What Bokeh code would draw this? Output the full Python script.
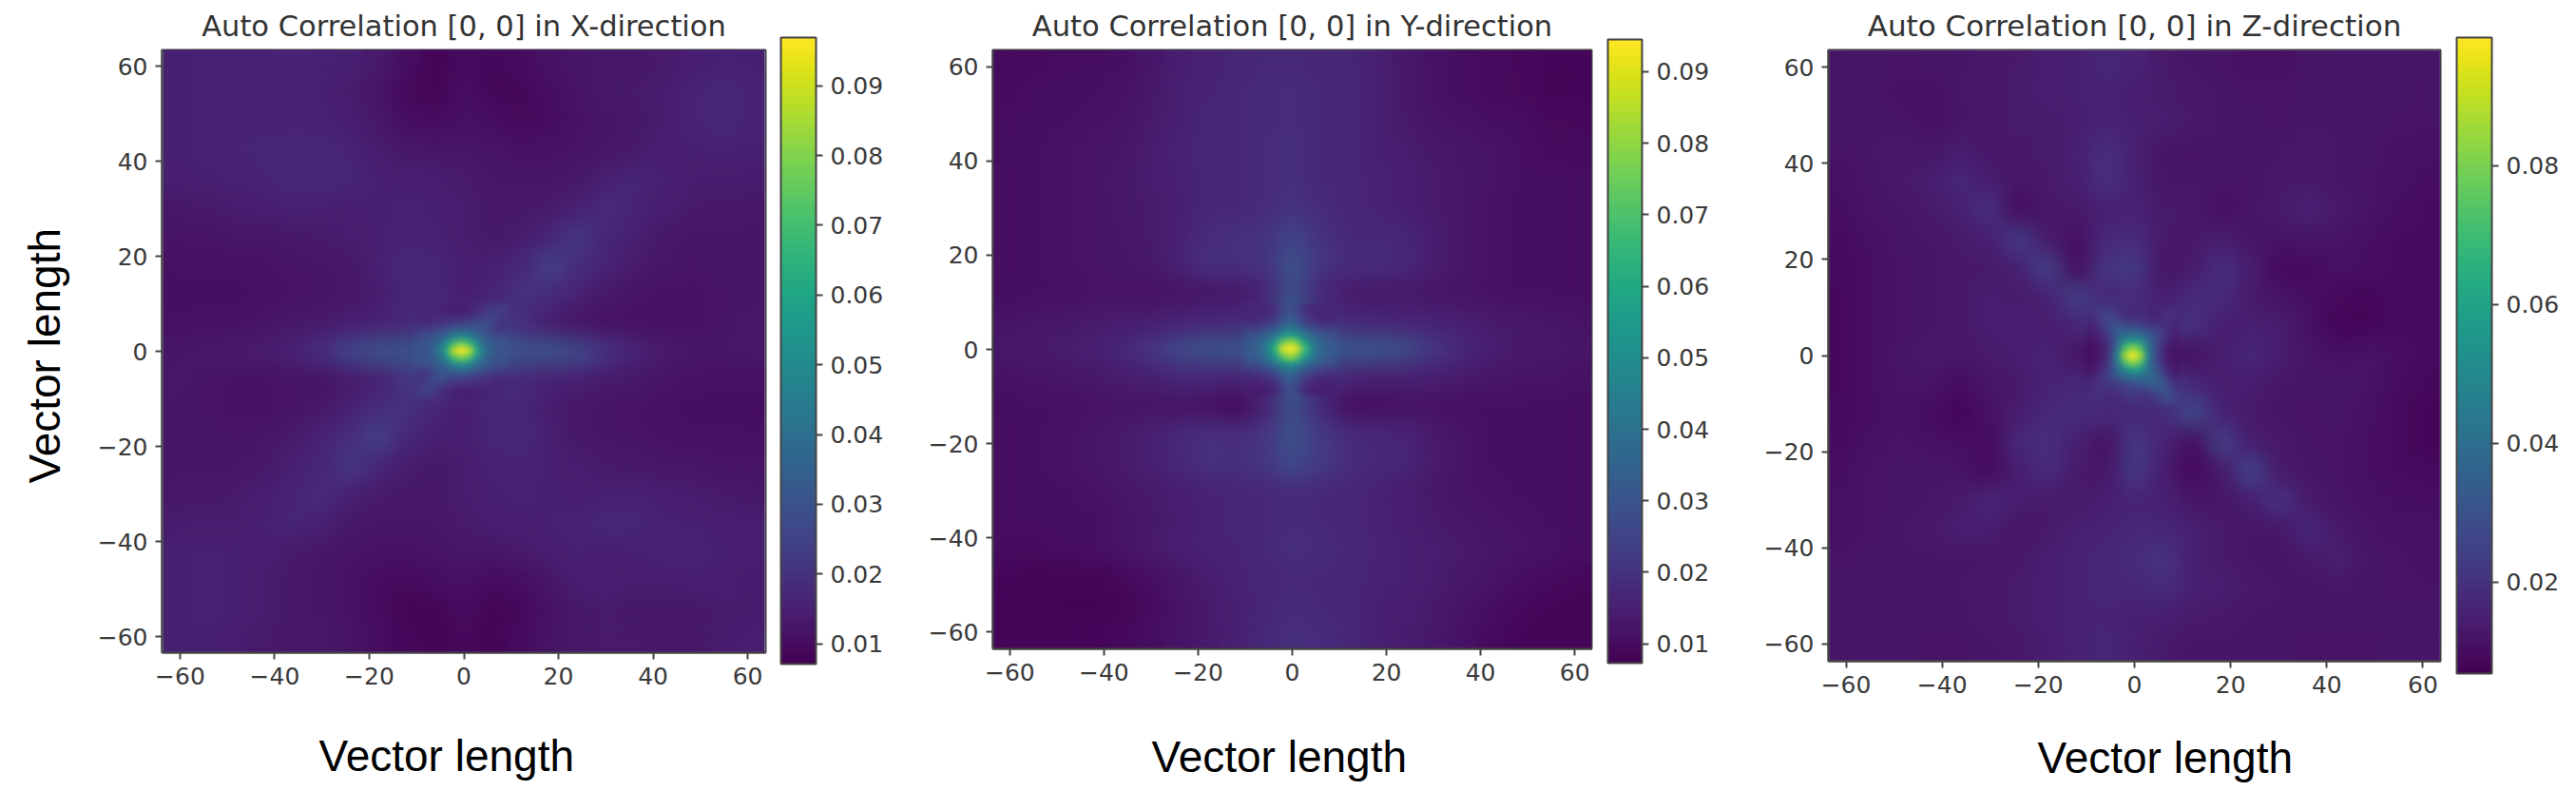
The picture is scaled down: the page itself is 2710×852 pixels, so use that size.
from bokeh.plotting import figure
from bokeh.layouts import row
from bokeh.models import ColorBar, LinearColorMapper, FixedTicker, Title, Range1d, CustomJS
from bokeh.palettes import Viridis256
from bokeh.document import Document
from bokeh.embed import file_html
from bokeh.resources import INLINE
import numpy as np

ticks = [-60, -40, -20, 0, 20, 40, 60]
tick_labels = {t: str(t).replace("-", "\u2212") for t in ticks}
titles = ["Auto Correlation [0, 0] in X-direction", "Auto Correlation [0, 0] in Y-direction", "Auto Correlation [0, 0] in Z-direction"]
axis_text = "Vector length"
cb_ticks_xy = [.01, .02, .03, .04, .05, .06, .07, .08, .09]
cb_ticks_z = [.02, .04, .06, .08]

# Values, in units of 1e-4; rows run from y=+60 to y=-60, columns from x=-60 to x=+60
x_wide = [
[150,152,155,155,160,155,150,135,105,85,100,90,100,115,125,130,130,135,145,155,150],
[150,155,158,158,160,150,140,120,95,85,105,90,90,105,120,130,135,140,160,170,160],
[150,155,158,158,158,155,145,130,105,100,110,105,95,100,115,125,130,140,160,170,160],
[150,155,160,165,170,170,160,140,130,125,125,120,115,115,120,125,135,145,150,155,150],
[145,150,155,160,170,175,165,150,145,145,135,125,125,125,130,150,165,150,140,140,140],
[130,135,140,145,155,150,145,150,155,150,140,130,130,135,150,180,160,145,135,130,130],
[120,120,125,125,130,135,140,150,160,155,140,130,140,165,215,165,150,130,125,125,125],
[110,110,110,115,120,125,130,150,170,165,150,150,170,240,190,160,135,125,120,125,125],
[105,105,105,110,115,120,125,140,175,170,140,160,200,190,155,130,120,115,115,120,125],
[110,110,115,120,130,135,145,155,170,195,200,240,190,140,120,115,110,110,115,120,130],
[125,130,135,140,155,190,250,290,300,340,400,340,295,290,265,200,160,135,125,125,130],
[130,120,115,115,120,120,135,155,205,240,200,195,170,155,150,135,130,120,115,110,110],
[125,120,115,115,120,130,155,190,200,160,140,170,175,140,125,120,115,110,105,105,105],
[125,125,120,125,135,160,190,240,170,150,150,165,170,150,130,125,120,115,110,110,110],
[125,125,125,130,150,165,215,165,140,130,140,155,160,150,140,135,130,125,125,120,120],
[130,130,135,145,160,180,150,135,130,130,140,150,155,150,145,150,155,145,140,135,130],
[140,140,140,150,165,150,130,125,125,125,135,145,145,150,160,170,165,155,150,145,145],
[150,155,150,145,135,125,120,115,115,120,125,125,135,145,150,145,150,160,160,150,145],
[150,155,150,140,130,125,115,100,95,105,110,100,105,125,145,145,140,140,145,145,140],
[150,155,150,140,130,125,115,100,85,85,100,85,90,115,130,135,130,130,130,135,140],
[150,150,145,135,130,130,120,105,90,85,95,85,100,120,130,135,135,130,130,140,145],
]
y_wide = [
[100,100,105,105,110,125,145,155,165,175,175,170,165,150,130,115,105,100,95,90,90],
[100,105,105,110,115,130,150,160,170,180,185,175,165,150,130,115,105,100,95,90,90],
[105,105,110,115,120,135,150,165,170,180,185,175,165,150,135,120,115,110,105,95,95],
[105,110,115,120,125,140,155,165,170,180,190,175,165,150,140,130,125,120,110,100,100],
[110,110,115,120,130,140,150,165,170,180,190,175,165,155,145,135,125,120,110,105,105],
[110,110,115,120,130,135,150,165,170,185,200,180,165,155,145,135,125,115,110,105,105],
[110,110,115,120,125,135,150,185,190,200,250,200,175,175,165,140,125,115,110,110,110],
[110,110,115,120,125,130,155,190,190,200,290,210,180,185,170,140,125,115,110,110,110],
[105,110,110,115,115,115,120,125,130,160,280,170,135,130,130,125,120,115,110,110,110],
[120,125,130,135,140,145,155,165,170,220,400,230,170,165,160,155,145,135,130,125,120],
[130,135,140,150,170,205,265,290,300,350,500,350,305,300,275,210,170,145,135,130,125],
[115,120,125,130,140,150,165,165,160,215,400,220,160,150,150,145,135,125,120,120,115],
[105,110,110,115,120,120,120,115,95,150,280,170,110,110,115,115,110,110,110,105,105],
[110,110,115,125,135,150,175,195,185,210,290,220,180,170,160,135,120,110,105,105,105],
[110,110,115,125,135,150,170,195,190,210,270,220,185,170,165,135,120,110,105,105,105],
[105,105,110,115,125,135,145,155,165,170,185,175,165,155,140,130,120,115,110,105,105],
[105,105,105,110,120,130,140,155,165,175,180,175,165,155,145,135,125,120,115,110,105],
[100,100,105,110,120,135,145,155,160,175,190,180,170,160,150,140,135,125,120,115,110],
[90,85,85,85,95,110,125,140,155,165,175,175,165,155,150,140,130,120,110,100,95],
[85,85,80,80,85,100,120,135,150,165,180,175,165,150,145,135,120,105,95,90,85],
[85,85,85,90,95,105,120,135,150,175,190,185,170,150,140,130,115,100,90,85,85],
]
z_wide = [
[120,120,115,120,125,130,135,145,150,165,160,135,125,115,110,110,120,125,125,125,120],
[120,120,110,110,125,130,135,145,150,160,145,135,130,120,115,115,120,125,125,120,115],
[120,125,120,110,120,130,135,135,145,155,150,145,130,125,120,115,125,125,125,115,115],
[115,125,130,125,145,125,130,135,150,190,150,120,115,125,125,125,130,125,120,110,110],
[110,120,130,140,170,140,125,130,145,190,155,120,125,120,115,130,130,125,115,110,105],
[105,115,125,135,150,195,95,130,130,150,155,135,130,105,120,135,155,130,115,105,100],
[100,110,120,125,135,145,235,130,105,175,180,130,130,140,120,115,120,115,105,100,100],
[95,105,115,125,130,130,150,250,100,210,225,120,135,190,140,90,95,110,105,100,100],
[90,105,115,120,130,140,135,150,250,165,180,140,185,180,130,115,105,90,85,95,100],
[90,105,115,125,130,140,140,140,160,290,200,195,195,140,150,140,110,85,85,95,100],
[90,105,120,130,125,135,140,160,115,130,400,120,110,145,165,140,120,110,115,105,95],
[90,105,115,115,100,125,130,160,175,180,200,290,170,140,140,125,120,125,115,100,90],
[95,105,110,100,85,110,140,175,185,175,175,170,270,155,130,120,115,120,110,95,85],
[100,110,115,110,105,100,175,190,150,110,220,160,100,250,140,130,115,115,105,95,85],
[105,115,120,125,115,95,145,180,135,125,225,140,90,130,255,130,125,115,105,100,95],
[110,115,120,125,135,170,140,130,130,145,160,150,125,125,140,205,130,120,110,105,105],
[110,115,125,130,145,140,120,135,150,155,175,165,150,135,125,125,175,130,115,110,110],
[115,120,125,125,125,125,130,145,155,165,185,205,150,135,125,120,130,150,120,115,110],
[120,120,120,120,125,130,135,145,160,165,170,185,150,140,130,125,120,125,120,115,115],
[120,120,120,120,120,130,135,145,155,160,150,145,135,130,125,125,120,120,120,120,120],
[120,120,120,115,115,125,130,140,155,165,150,135,125,125,120,120,115,115,115,120,125],
]
# The same fields close to the peak, finer; rows y=+9..-9, columns x=-9..+9 about the peak
x_core = [
[175,170,165,155,145,140,140,150,165,190,215,225,230],
[170,165,170,170,165,165,170,180,195,220,250,240,215],
[175,175,180,195,210,220,230,240,260,280,265,225,200],
[210,225,240,260,290,320,330,330,320,305,260,215,210],
[275,285,300,330,390,460,500,470,390,330,300,285,280],
[295,305,330,400,530,700,790,700,530,400,335,310,295],
[300,310,345,440,640,900,1010,900,640,440,345,310,300],
[295,310,335,400,530,700,790,700,530,400,330,305,295],
[280,285,300,330,390,470,500,460,390,330,300,285,275],
[210,215,260,305,320,330,330,320,290,260,240,225,210],
[200,225,265,280,260,240,230,220,210,195,180,175,175],
[215,240,250,220,195,180,170,165,165,170,170,165,170],
[230,225,215,190,165,150,140,140,145,155,165,170,175],
]
y_core = [
[160,160,165,170,190,245,285,245,190,170,165,160,160],
[165,165,170,180,210,265,310,265,210,180,170,165,165],
[170,175,185,205,240,300,345,300,240,205,185,175,170],
[220,230,245,270,310,370,410,370,310,270,245,230,220],
[285,295,320,360,420,510,560,510,420,360,320,295,285],
[310,325,365,440,570,740,830,740,570,440,365,325,310],
[320,335,385,490,680,920,1010,920,680,490,385,335,320],
[310,325,365,440,570,740,830,740,570,440,365,325,310],
[285,295,320,360,420,510,560,510,420,360,320,295,285],
[215,225,240,265,305,365,405,365,305,265,240,225,215],
[160,170,180,200,235,295,340,295,235,200,180,170,160],
[150,150,155,165,195,260,305,260,195,165,155,150,150],
[140,135,135,145,170,235,285,240,170,145,140,140,140],
]
z_core = [
[190,205,235,240,200,170,175,190,170,150,170,190,190],
[175,200,240,265,240,210,205,200,185,175,185,190,175],
[150,175,225,290,310,290,280,265,235,215,205,180,155],
[135,150,190,260,350,380,385,370,330,280,230,185,145],
[120,135,165,230,360,500,560,520,400,300,225,165,130],
[105,120,150,230,420,720,830,740,470,300,200,140,115],
[100,115,150,250,480,870,1040,880,510,300,190,130,110],
[110,125,165,255,450,730,840,750,470,310,205,145,115],
[125,140,190,265,380,510,580,530,420,345,245,165,125],
[150,175,215,260,320,365,390,395,385,355,295,215,150],
[175,190,205,215,235,260,285,300,320,340,320,265,185],
[175,190,190,190,200,215,225,225,235,265,295,290,210],
[190,195,180,170,185,200,210,205,180,205,250,290,240],
]

specs = [
 dict(wide=x_wide, core=x_core, x0=170, x1=805, y0=45, y1=679, half=63.8, yhalf=63.4, cb=(821, 858, 32, 691), low=.0071, high=.0969, cbt=cb_ticks_xy, L=0, W=950, fs="30.5px", lab=335, std=89),
 dict(wide=y_wide, core=y_core, x0=1044, x1=1674, y0=52, y1=682, half=63.6, yhalf=63.6, cb=(1691, 1727, 41, 697), low=.0073, high=.0945, cbt=cb_ticks_xy, L=950, W=880, fs="30.5px", lab=1211, std=98),
 dict(wide=z_wide, core=z_core, x0=1923, x1=2567, y0=50, y1=693, half=63.66, yhalf=63.66, cb=(2584, 2621, 37, 706), low=.0068, high=.0985, cbt=cb_ticks_z, L=1830, W=875, fs="31px", lab=2143, std=75),
]
H = 846
T = 10
S = 10
figs = []
for i, s in enumerate(specs):
    fw, fh = s["x1"] - s["x0"], s["y1"] - s["y0"]
    extra = S if i == 0 else 0
    p = figure(output_backend="svg", toolbar_location=None, width=s["W"] + extra, height=H + T, margin=(-T, 0, 0, -extra),
               x_range=Range1d(-s["half"], s["half"]), y_range=Range1d(-s["yhalf"], s["yhalf"]),
               min_border_left=s["x0"] - s["L"] + extra, min_border_right=s["L"] + s["W"] - s["x1"],
               min_border_top=s["y0"] + T, min_border_bottom=H - s["y1"],
               frame_width=fw, frame_height=fh, title=titles[i])
    p.title.align = "center"; p.title.text_font = "DejaVu Sans"; p.title.text_font_size = s["fs"]
    p.title.text_font_style = "normal"; p.title.text_color = "#333333"; p.title.standoff = 15
    p.grid.visible = False
    for ax in (p.xaxis[0], p.yaxis[0]):
        ax.ticker = FixedTicker(ticks=ticks); ax.major_label_overrides = tick_labels
        ax.major_label_text_font = "DejaVu Sans"; ax.major_label_text_font_size = "25px"
        ax.major_label_text_color = "#3a3a3a"; ax.major_tick_in = 0; ax.major_tick_out = 7
        ax.major_tick_line_color = "#444444"; ax.major_tick_line_width = 2; ax.minor_tick_line_color = None
        ax.axis_line_color = "#444444"; ax.axis_line_width = 2; ax.major_label_standoff = 8
    p.yaxis[0].major_label_orientation = "horizontal"
    p.outline_line_color = "#444444"; p.outline_line_width = 2
    cm = LinearColorMapper(palette=Viridis256, low=s["low"], high=s["high"])
    wide = np.array(s["wide"], dtype=float)[::-1] * 1e-4
    core = np.array(s["core"], dtype=float)[::-1] * 1e-4
    # base copy under the soft copy keeps the colours right up to the frame edge
    p.image(image=[wide], x=-63.5, y=-63.5, dw=127, dh=127, color_mapper=cm)
    p.image(image=[wide], x=-63.5, y=-63.5, dw=127, dh=127, color_mapper=cm)
    p.image(image=[core], x=-10.25, y=-9.75, dw=19.5, dh=19.5, color_mapper=cm)
    x0, x1, y0, y1 = s["cb"]
    cb = ColorBar(color_mapper=cm, width=x1 - x0, height=y1 - y0, padding=0,
                  location=(x0 - s["x0"], s["y1"] - y1), ticker=FixedTicker(ticks=s["cbt"]),
                  major_tick_in=0, major_tick_out=7, major_tick_line_color="#444444", major_tick_line_width=2,
                  minor_tick_line_color=None, bar_line_color="#444444", bar_line_width=2,
                  major_label_text_font="DejaVu Sans", major_label_text_font_size="25px", major_label_text_color="#3a3a3a",
                  label_standoff=8, background_fill_alpha=0, border_line_color=None,
                  major_label_overrides={t: f"{t:.2f}" for t in s["cbt"]})
    p.add_layout(cb, "center")
    p.add_layout(Title(text=axis_text, align="left", offset=s["lab"] - s["x0"], standoff=s["std"], text_font="Liberation Sans",
                       text_font_size="46px", text_font_style="normal", text_color="black"), "below")
    if i == 0:
        p.add_layout(Title(text=axis_text, align="left", offset=178, standoff=53, text_font="Liberation Sans",
                           text_font_size="46px", text_font_style="normal", text_color="black"), "left")
    figs.append(p)

r = row(*figs, spacing=0)
doc = Document(); doc.add_root(r)
doc.js_on_event("document_ready", CustomJS(code="""
function collect(root, out){root.querySelectorAll('*').forEach(e=>{
  if(e.tagName.toLowerCase()=='image')out.push(e);
  if(e.shadowRoot)collect(e.shadowRoot,out);});return out;}
function soften(){collect(document,[]).forEach((e,i)=>{
  if(i%4==1)e.style.filter='blur(11px)';
  if(i%4==2)e.style.filter='blur(3px)';});}
[50,300,1000].forEach(t=>setTimeout(soften,t));
"""))
open("out.html", "w").write(file_html(doc, INLINE))
